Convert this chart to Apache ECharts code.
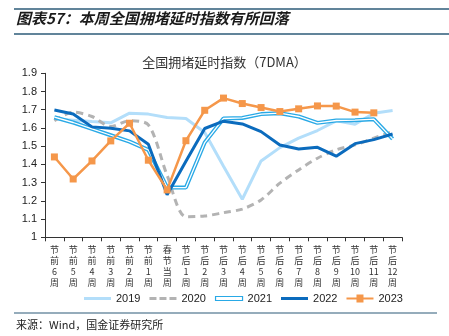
<!DOCTYPE html>
<html><head><meta charset="utf-8">
<script src="https://cdn.jsdelivr.net/npm/echarts@6/dist/echarts.min.js"></script>
<style>html,body{margin:0;padding:0;background:#fff}#c{width:449px;height:336px}</style>
</head><body><div id="c"></div>
<script>
const categories = ['节前6周','节前5周','节前4周','节前3周','节前2周','节前1周','春节当周','节后1周','节后2周','节后3周','节后4周','节后5周','节后6周','节后7周','节后8周','节后9周','节后10周','节后11周','节后12周'];
const s2019 = [1.65,1.643,1.635,1.628,1.681,1.676,1.657,1.652,1.575,1.39,1.209,1.419,1.492,1.544,1.586,1.639,1.62,1.681,1.696];
const s2020 = [1.639,1.687,1.663,1.608,1.639,1.617,1.34,1.113,1.117,1.135,1.155,1.205,1.297,1.37,1.434,1.48,1.507,1.544,1.58];
const s2021 = [1.659,1.63,1.595,1.56,1.525,1.48,1.273,1.273,1.52,1.652,1.655,1.676,1.681,1.663,1.628,1.641,1.643,1.648,1.54];
const s2022 = [1.699,1.677,1.606,1.599,1.584,1.511,1.234,1.417,1.597,1.637,1.622,1.58,1.507,1.485,1.494,1.445,1.514,1.536,1.567];
const s2023 = [1.441,1.32,1.419,1.529,1.626,1.423,1.26,1.53,1.697,1.764,1.734,1.712,1.69,1.705,1.721,1.72,1.687,1.683,null];
const yTicks = {min:1, max:1.9, interval:0.1};

function vert(s){
  const parts = s.match(/\d+|./g);
  return parts.join('\n');
}
const C19='#b3defa', C20='#b3b3b3', C21='#29a9e6', C22='#0b6bbd', C23='#f5974a';
const chart = echarts.init(document.getElementById('c'));
chart.setOption({
  animation:false,
  title:[{text:'全国拥堵延时指数（7DMA）', left:'center', top:51,
    textStyle:{fontSize:13, fontWeight:'normal', color:'#333', fontFamily:'Noto Sans CJK SC'}}],
  graphic:[
    {type:'line', shape:{x1:14,y1:9,x2:449,y2:9}, style:{stroke:'#2d5b78', lineWidth:1.5}},
    {type:'line', shape:{x1:14,y1:34,x2:449,y2:34}, style:{stroke:'#2d5b78', lineWidth:1.5}},
    {type:'text', left:16, top:11, style:{text:'图表57：本周全国拥堵延时指数有所回落', fontSize:15, fontWeight:'bold', fontStyle:'italic', fill:'#1a1a1a', fontFamily:'Noto Sans CJK SC'}},
    {type:'line', shape:{x1:14,y1:313,x2:437,y2:313}, style:{stroke:'#2d5b78', lineWidth:1.2}},
    {type:'text', left:16, top:319, style:{text:'来源：Wind，国金证券研究所', fontSize:11, fill:'#222', fontFamily:'Noto Sans CJK SC'}}
  ],
  grid:{left:45, right:47, top:73.3, bottom:98.7},
  legend:{top:288, left:79, itemWidth:27, itemHeight:8, itemGap:9,
    textStyle:{fontSize:11, color:'#222', fontFamily:'Liberation Sans'},
    data:[
      {name:'2019', icon:'path://M0,0h27v3h-27z', itemStyle:{color:C19}},
      {name:'2020', icon:'path://M0,0h7v3h-7z M10,0h7v3h-7z M20,0h7v3h-7z', itemStyle:{color:C20}},
      {name:'2021', icon:'path://M0,0h27v4h-27z', itemStyle:{color:'#fff', borderColor:C21, borderWidth:1.2}},
      {name:'2022', icon:'path://M0,0h27v3h-27z', itemStyle:{color:C22}},
      {name:'2023', icon:'path://M0,3h27v2h-27z M10,0h7v8h-7z', itemStyle:{color:C23}}]},
  xAxis:{type:'category', data:categories, boundaryGap:true,
    axisLine:{lineStyle:{color:'#333', width:1}},
    axisTick:{show:true, alignWithLabel:false, length:4, lineStyle:{color:'#333'}},
    axisLabel:{interval:0, formatter:vert, fontSize:9, lineHeight:11, color:'#333', margin:7, fontFamily:'Noto Sans CJK SC'}},
  yAxis:{type:'value', min:yTicks.min, max:yTicks.max, interval:yTicks.interval,
    axisLine:{show:true, lineStyle:{color:'#333'}},
    axisTick:{show:true, length:4, lineStyle:{color:'#333'}},
    splitLine:{show:false},
    axisLabel:{fontSize:11, color:'#222', margin:8, fontFamily:'Liberation Sans'}},
  series:[
    {name:'2019', type:'line', data:s2019, symbol:'none', lineStyle:{color:C19, width:3}, itemStyle:{color:C19}},
    {name:'2020', type:'line', data:s2020, symbol:'none', smooth:0.3, lineStyle:{color:C20, width:3, type:[7,5]}, itemStyle:{color:C20}},
    {name:'2021', type:'line', data:s2021, symbol:'none', lineStyle:{color:C21, width:4}, itemStyle:{color:C21}},
    {name:'2021w', type:'line', data:s2021, symbol:'none', lineStyle:{color:'#fff', width:1.3}, silent:true},
    {name:'2022', type:'line', data:s2022, symbol:'none', lineStyle:{color:C22, width:3}, itemStyle:{color:C22}},
    {name:'2023', type:'line', data:s2023, symbol:'rect', symbolSize:7, lineStyle:{color:C23, width:2.5}, itemStyle:{color:C23}}
  ]
});
</script></body></html>
